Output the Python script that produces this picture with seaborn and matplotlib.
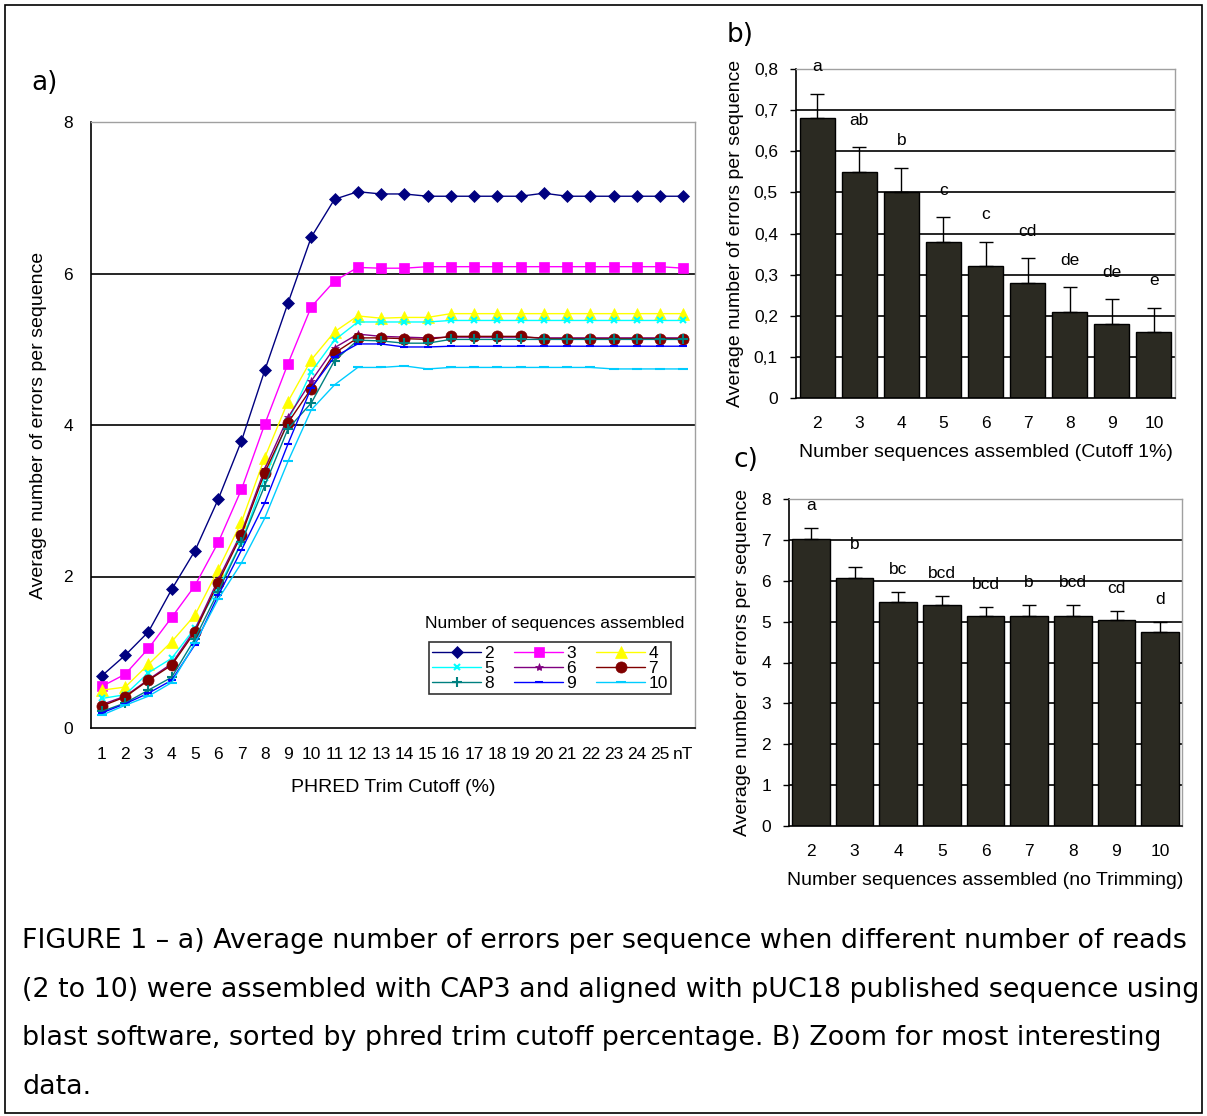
import numpy as np
import pandas as pd
import matplotlib
matplotlib.use("Agg")
import matplotlib.pyplot as plt
import seaborn as sns
from matplotlib.patches import Rectangle
from matplotlib.lines import Line2D

# ---------------- data ----------------
cutoff_labels = [str(i) for i in range(1, 26)] + ["nT"]

s2 = [0.69, 0.96, 1.27, 1.83, 2.34, 3.02, 3.79, 4.72, 5.61, 6.48, 6.98, 7.08, 7.05,
      7.05, 7.02, 7.02, 7.02, 7.02, 7.02, 7.06, 7.02, 7.02, 7.02, 7.02, 7.02, 7.02]
s3 = [0.55, 0.71, 1.05, 1.46, 1.88, 2.45, 3.15, 4.01, 4.81, 5.56, 5.90, 6.08, 6.07,
      6.07, 6.09, 6.09, 6.09, 6.09, 6.09, 6.09, 6.09, 6.09, 6.09, 6.09, 6.09, 6.07]
s4 = [0.50, 0.54, 0.84, 1.14, 1.49, 2.09, 2.72, 3.57, 4.31, 4.86, 5.23, 5.44, 5.41,
      5.42, 5.42, 5.47, 5.47, 5.47, 5.47, 5.47, 5.47, 5.47, 5.47, 5.47, 5.47, 5.47]
s5 = [0.39, 0.44, 0.73, 0.92, 1.32, 1.85, 2.45, 3.30, 4.05, 4.70, 5.12, 5.36, 5.36,
      5.36, 5.36, 5.38, 5.38, 5.38, 5.38, 5.38, 5.38, 5.38, 5.38, 5.38, 5.38, 5.38]
s6 = [0.31, 0.42, 0.64, 0.85, 1.30, 1.96, 2.58, 3.42, 4.10, 4.58, 5.02, 5.20, 5.17,
      5.16, 5.15, 5.16, 5.16, 5.16, 5.16, 5.15, 5.15, 5.15, 5.15, 5.15, 5.15, 5.15]
s7 = [0.29, 0.41, 0.63, 0.83, 1.27, 1.92, 2.55, 3.37, 4.03, 4.48, 4.95, 5.15, 5.15,
      5.14, 5.13, 5.17, 5.17, 5.17, 5.17, 5.14, 5.14, 5.14, 5.14, 5.14, 5.14, 5.14]
s8 = [0.22, 0.33, 0.50, 0.67, 1.18, 1.80, 2.45, 3.20, 3.95, 4.29, 4.85, 5.12, 5.11,
      5.08, 5.08, 5.13, 5.13, 5.13, 5.13, 5.13, 5.13, 5.13, 5.13, 5.13, 5.13, 5.13]
s9 = [0.20, 0.32, 0.46, 0.63, 1.10, 1.75, 2.35, 2.97, 3.75, 4.49, 4.90, 5.07, 5.07,
      5.03, 5.03, 5.04, 5.04, 5.04, 5.04, 5.04, 5.04, 5.04, 5.04, 5.04, 5.04, 5.04]
s10 = [0.17, 0.30, 0.42, 0.60, 1.12, 1.70, 2.18, 2.77, 3.52, 4.20, 4.53, 4.76, 4.76,
       4.78, 4.74, 4.76, 4.76, 4.76, 4.76, 4.76, 4.76, 4.76, 4.74, 4.74, 4.74, 4.74]
series_names = ["2", "3", "4", "5", "6", "7", "8", "9", "10"]
series_values = [s2, s3, s4, s5, s6, s7, s8, s9, s10]

bar_cats = ["2", "3", "4", "5", "6", "7", "8", "9", "10"]
b_means = [0.68, 0.55, 0.50, 0.38, 0.32, 0.28, 0.21, 0.18, 0.16]
b_err = [0.06, 0.06, 0.06, 0.06, 0.06, 0.06, 0.06, 0.06, 0.06]
b_letters = ["a", "ab", "b", "c", "c", "cd", "de", "de", "e"]

c_means = [7.03, 6.07, 5.47, 5.40, 5.13, 5.13, 5.13, 5.05, 4.75]
c_err = [0.25, 0.26, 0.26, 0.22, 0.22, 0.27, 0.27, 0.22, 0.23]
c_letters = ["a", "b", "bc", "bcd", "bcd", "b", "bcd", "cd", "d"]

caption = [
    "FIGURE 1 \u2013 a) Average number of errors per sequence when different number of reads",
    "(2 to 10) were assembled with CAP3 and aligned with pUC18 published sequence using",
    "blast software, sorted by phred trim cutoff percentage. B) Zoom for most interesting",
    "data.",
]

# ---------------- style ----------------
sns.set_theme(style="white")
plt.rcParams["font.family"] = ["Liberation Sans", "DejaVu Sans"]
plt.rcParams.update({"text.color": "black", "axes.labelcolor": "black",
                     "xtick.color": "black", "ytick.color": "black"})

colors = ["#000080", "#ff00ff", "#ffff00", "#00ffff", "#800080",
          "#800000", "#008080", "#0000ff", "#00ccff"]
markers = ["D", "s", "^", "x", "*", "o", "+", "_", "_"]
msizes = [6, 7, 8, 5, 6, 8, 7, 6, 7]

W, H = 1207, 1116
fig = plt.figure(figsize=(W / 100, H / 100), dpi=100)
fig.patch.set_facecolor("white")


def fax(l, t, r, b):
    return fig.add_axes([l / W, 1 - b / H, (r - l) / W, (b - t) / H])


def frame(ax):
    for s in ["left", "bottom"]:
        ax.spines[s].set_color("black")
        ax.spines[s].set_linewidth(1.2)
    for s in ["top", "right"]:
        ax.spines[s].set_color("#a0a0a0")
        ax.spines[s].set_linewidth(1.0)


# ---------------- panel a ----------------
axa = fax(91, 122, 695, 728)
xs = np.arange(len(cutoff_labels))
for name, vals, c, m, ms in zip(series_names, series_values, colors, markers, msizes):
    df = pd.DataFrame({"x": xs, "y": vals})
    sns.lineplot(data=df, x="x", y="y", ax=axa, color=c, marker=m, markersize=ms,
                 markeredgecolor=c, markerfacecolor=c, linewidth=1.0,
                 markeredgewidth=1.5 if m in ["x", "+", "_"] else 0.5, legend=False)
axa.set_xlim(-0.47, 25.5)
axa.set_ylim(0, 8)
axa.set_yticks([0, 2, 4, 6, 8])
for yv in [2, 4, 6]:
    axa.axhline(yv, color="black", lw=1.2, zorder=0)
axa.set_xticks(xs)
axa.set_xticklabels(cutoff_labels, fontsize=12.5)
axa.tick_params(axis="x", length=0, pad=14)
axa.tick_params(axis="y", length=0, pad=13, labelsize=12.5)
axa.set_xlabel("PHRED Trim Cutoff (%)", fontsize=14, labelpad=12)
axa.set_ylabel("Average number of errors per sequence", fontsize=14, labelpad=12)
frame(axa)

handles = [Line2D([], [], color=c, marker=m, markersize=ms, markeredgecolor=c,
                  markerfacecolor=c, lw=1.0,
                  markeredgewidth=1.5 if m in ["x", "+", "_"] else 0.5)
           for c, m, ms in zip(colors, markers, msizes)]
order = [0, 3, 6, 1, 4, 7, 2, 5, 8]
leg = axa.legend([handles[i] for i in order], [series_names[i] for i in order],
                 ncol=3, loc="lower left", bbox_to_anchor=(0.545, 0.041, 0.43, 0.104),
                 mode="expand", fontsize=12.5, frameon=True, fancybox=False,
                 edgecolor="black", handlelength=2.8, handletextpad=0.2,
                 columnspacing=0.8, borderpad=0.2, labelspacing=0.0)
leg.get_frame().set_linewidth(1.2)
axa.text(0.768, 0.172, "Number of sequences assembled", transform=axa.transAxes,
         ha="center", va="center", fontsize=12.5)


# ---------------- bar panels ----------------
def bar_panel(ax, means, errs, letters, ylim, yticks, ylabels, width, off, xlabel):
    dfb = pd.DataFrame({"n": bar_cats, "v": means})
    sns.barplot(data=dfb, x="n", y="v", ax=ax, color="#2b2a22", saturation=1,
                edgecolor="black", linewidth=1.0, width=width, zorder=2)
    pos = np.arange(len(means))
    ax.errorbar(pos, means, yerr=[np.zeros(len(errs)), errs], fmt="none",
                ecolor="black", elinewidth=1.0, capsize=5, capthick=1.0, zorder=3)
    for p, mv, e, t in zip(pos, means, errs, letters):
        ax.text(p, mv + e + off, t, ha="center", va="center", fontsize=12.5, zorder=4)
    ax.set_ylim(*ylim)
    ax.set_xlim(-0.5, 8.5)
    ax.set_yticks(yticks)
    ax.set_yticklabels(ylabels, fontsize=12.5)
    for yv in yticks[1:-1]:
        ax.axhline(yv, color="black", lw=1.2, zorder=1)
    ax.tick_params(axis="x", length=0, pad=13, labelsize=12.5)
    ax.tick_params(axis="y", length=4, width=1, color="black", pad=9, direction="out", left=True)
    ax.set_xlabel(xlabel, fontsize=14, labelpad=9)
    ax.set_ylabel("Average number of errors per sequence", fontsize=14, labelpad=7)
    frame(ax)


axb = fax(796, 69, 1175, 398)
bt = [0, 0.1, 0.2, 0.3, 0.4, 0.5, 0.6, 0.7, 0.8]
bar_panel(axb, b_means, b_err, b_letters, (0, 0.8), bt,
          ["0"] + [f"{v:.1f}".replace(".", ",") for v in bt[1:]], 0.83, 0.065,
          "Number sequences assembled (Cutoff 1%)")

axc = fax(789, 499, 1182, 826)
ct = [0, 1, 2, 3, 4, 5, 6, 7, 8]
bar_panel(axc, c_means, c_err, c_letters, (0, 8), ct, [str(v) for v in ct], 0.87, 0.55,
          "Number sequences assembled (no Trimming)")

# ---------------- labels, caption, border ----------------
fig.text(45 / W, 1 - 83 / H, "a)", fontsize=19, family="DejaVu Sans", ha="center", va="center")
fig.text(740 / W, 1 - 35 / H, "b)", fontsize=19, family="DejaVu Sans", ha="center", va="center")
fig.text(746 / W, 1 - 460 / H, "c)", fontsize=19, family="DejaVu Sans", ha="center", va="center")

for i, line in enumerate(caption):
    fig.text(22 / W, 1 - (941 + i * 48.7) / H, line, fontsize=19.4, family="DejaVu Sans",
             ha="left", va="center")

fig.patches.append(Rectangle((5 / W, 3 / H), 1197 / W, 1108 / H, transform=fig.transFigure,
                             fill=False, edgecolor="black", lw=1.2))

fig.savefig("out.png", dpi=100)
